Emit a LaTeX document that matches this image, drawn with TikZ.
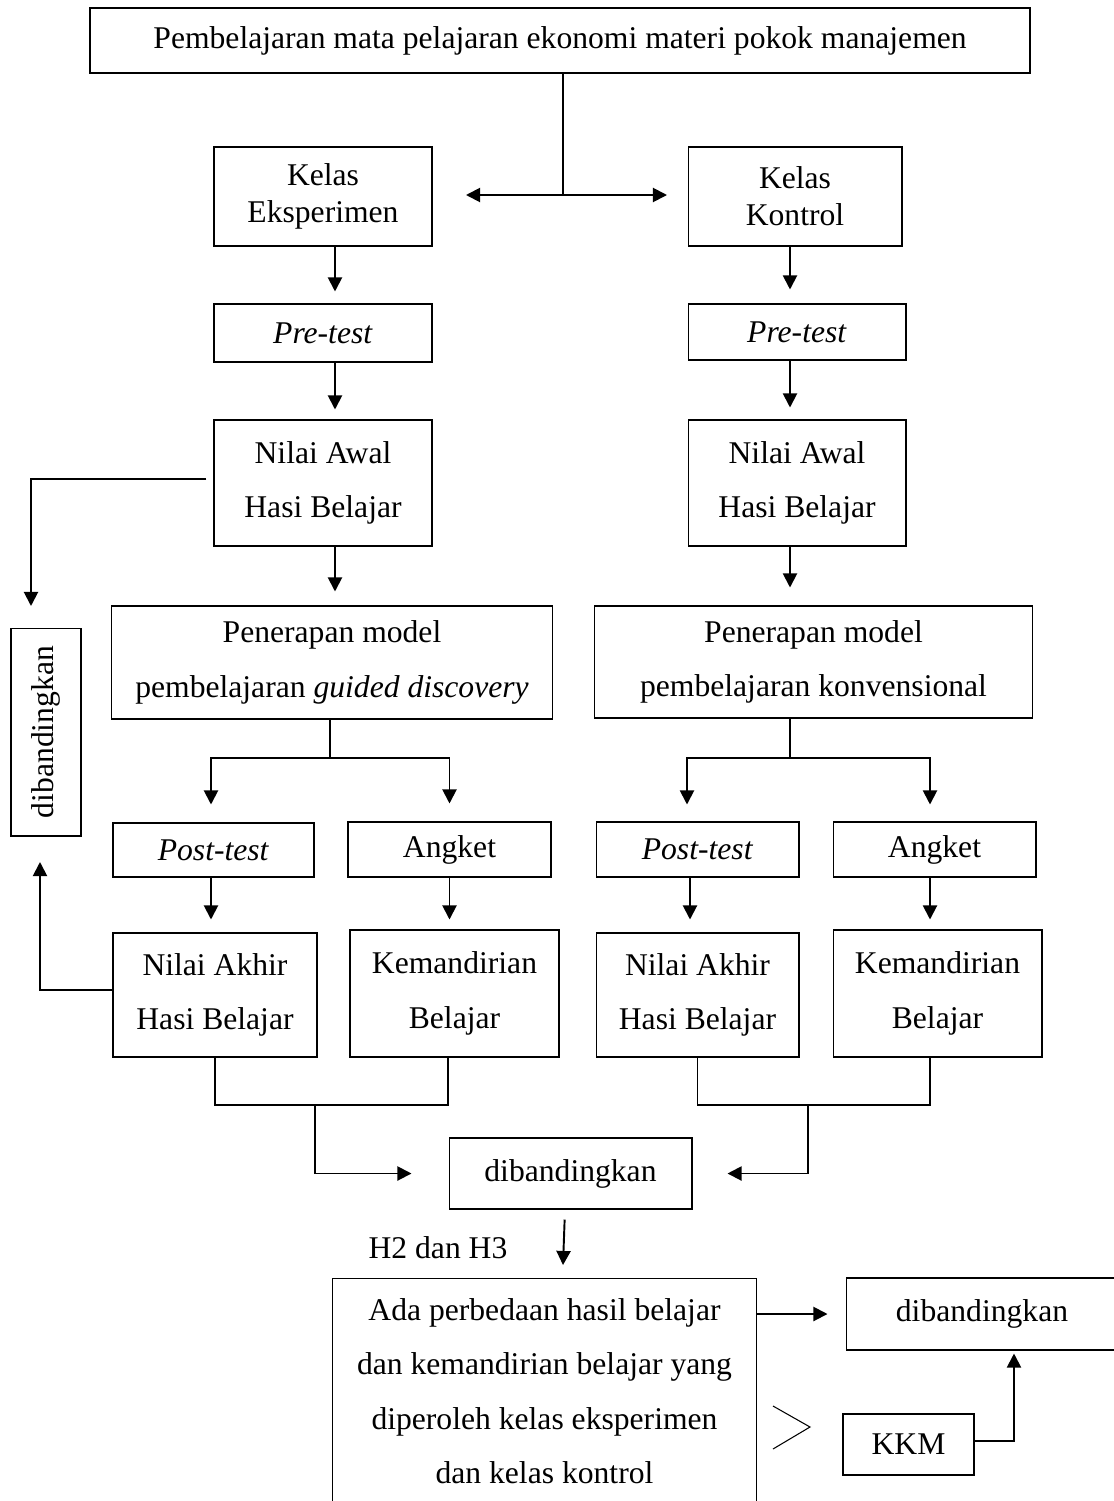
\documentclass[tikz,border=0pt]{standalone}
\usepackage{fontspec}
\setmainfont{Liberation Serif}
\usetikzlibrary{arrows.meta,positioning}
\tikzset{
        treenode/.style={align=center,inner sep=0pt},
        % Boxes of the flow
        node_box/.style={treenode, rectangle, draw=black, line width=0.6pt, font=\fontsize{18}{31}\selectfont},
        % Boxes with two tight lines
        node_class/.style={node_box, font=\fontsize{18}{21}\selectfont},
        % Plain labels
        node_label/.style={treenode, font=\fontsize{18}{31}\selectfont},
        % Connectors
        line_join/.style={line width=1.1pt},
        line_arrow/.style={line_join, -{Triangle[length=8pt,width=8pt]}}
}
\begin{document}
\begin{tikzpicture}[x=0.02cm, y=-0.02cm]
    \useasboundingbox (0,0) rectangle (1113,1501);
    % top
    \node[node_box, line width=0.9pt, minimum width=18.8cm, minimum height=1.3cm] (topic) at (560,40.5)
        {Pembelajaran mata pelajaran ekonomi materi pokok manajemen};
    \node[node_class, minimum width=4.36cm, minimum height=1.98cm] (kelasE) at (323,196.5) {Kelas\\Eksperimen};
    \node[node_class, minimum width=4.28cm, minimum height=1.98cm] (kelasK) at (795,196.5) {Kelas\\Kontrol};
    \coordinate (split) at (563,195);
    \coordinate (splitL) at (466,195);
    \coordinate (splitR) at (667,195);
    \draw[line_join] (split |- topic.south) -- (split);
    \draw[line_join, {Triangle[length=8pt,width=8pt]}-{Triangle[length=8pt,width=8pt]}] (splitL) -- (splitR);

    % pre-test and first scores
    \node[node_box, minimum width=4.36cm, minimum height=1.16cm] (preE) at (323,333) {\textit{Pre-test}};
    \node[node_box, minimum width=4.36cm, minimum height=1.12cm] (preK) at (797,332) {\textit{Pre-test}};
    \node[node_box, minimum width=4.36cm, minimum height=2.52cm] (awalE) at (323,483) {Nilai Awal\\Hasi Belajar};
    \node[node_box, minimum width=4.36cm, minimum height=2.52cm] (awalK) at (797,483) {Nilai Awal\\Hasi Belajar};
    \draw[line_arrow, shorten >=0.24cm] ([xshift=0.24cm]kelasE.south) -- ([xshift=0.24cm]kelasE.south |- preE.north);
    \draw[line_arrow, shorten >=0.28cm] ([xshift=-0.1cm]kelasK.south) -- ([xshift=-0.1cm]kelasK.south |- preK.north);
    \draw[line_arrow, shorten >=0.2cm] ([xshift=0.24cm]preE.south) -- ([xshift=0.24cm]preE.south |- awalE.north);
    \draw[line_arrow, shorten >=0.24cm] ([xshift=-0.14cm]preK.south) -- ([xshift=-0.14cm]preK.south |- awalK.north);

    % models
    \node[node_box, minimum width=8.84cm, minimum height=2.26cm] (modelE) at (332,662.5)
        {Penerapan model\\pembelajaran \textit{guided discovery}};
    \node[node_box, minimum width=8.78cm, minimum height=2.24cm] (modelK) at (813.5,662)
        {Penerapan model\\pembelajaran konvensional};
    \draw[line_arrow, shorten >=0.28cm] ([xshift=0.24cm]awalE.south) -- ([xshift=0.24cm]awalE.south |- modelE.north);
    \draw[line_arrow, shorten >=0.36cm] ([xshift=-0.14cm]awalK.south) -- ([xshift=-0.14cm]awalK.south |- modelK.north);

    % side comparison
    \node[node_box, rotate=90, minimum width=4.16cm, minimum height=1.4cm] (cmpL) at (46,732) {dibandingkan};
    \coordinate (cmpLin) at (31,606);
    \coordinate (cmpLout) at (40,862);
    \draw[line_arrow, shorten <=0.14cm] ([yshift=0.08cm]awalE.west) -| (cmpLin);

    % post-test and questionnaire
    \node[node_box, minimum width=4.02cm, minimum height=1.08cm] (postE) at (213.5,850) {\textit{Post-test}};
    \node[node_box, minimum width=4.06cm, minimum height=1.1cm] (angketE) at (449.5,849.5) {Angket};
    \node[node_box, minimum width=4.06cm, minimum height=1.1cm] (postK) at (697.5,849.5) {\textit{Post-test}};
    \node[node_box, minimum width=4.06cm, minimum height=1.1cm] (angketK) at (934.5,849.5) {Angket};
    \coordinate (forkE) at (330,758);
    \coordinate (forkK) at (790,758);
    \draw[line_join] (modelE.south -| forkE) -- (forkE);
    \draw[line_arrow, shorten >=0.36cm] (forkE) -| ([xshift=-0.05cm]postE.north);
    \draw[line_arrow, shorten >=0.36cm] (forkE) -| (angketE.north);
    \draw[line_join] (modelK.south -| forkK) -- (forkK);
    \draw[line_arrow, shorten >=0.34cm] (forkK) -| ([xshift=-0.21cm]postK.north);
    \draw[line_arrow, shorten >=0.34cm] (forkK) -| ([xshift=-0.09cm]angketK.north);

    % results
    \node[node_box, minimum width=4.08cm, minimum height=2.48cm] (akhirE) at (215,995) {Nilai Akhir\\Hasi Belajar};
    \node[node_box, minimum width=4.18cm, minimum height=2.54cm] (mandiriE) at (454.5,993.5) {Kemandirian\\Belajar};
    \node[node_box, minimum width=4.06cm, minimum height=2.48cm] (akhirK) at (697.5,995) {Nilai Akhir\\Hasi Belajar};
    \node[node_box, minimum width=4.18cm, minimum height=2.54cm] (mandiriK) at (937.5,993.5) {Kemandirian\\Belajar};
    \draw[line_arrow, shorten >=0.26cm] ([xshift=-0.05cm]postE.south) -- ([xshift=-0.05cm]postE.south |- akhirE.north);
    \draw[line_arrow, shorten >=0.2cm] (angketE.south) -- (angketE.south |- mandiriE.north);
    \draw[line_arrow, shorten >=0.26cm] ([xshift=-0.15cm]postK.south) -- ([xshift=-0.15cm]postK.south |- akhirK.north);
    \draw[line_arrow, shorten >=0.2cm] ([xshift=-0.09cm]angketK.south) -- ([xshift=-0.09cm]angketK.south |- mandiriK.north);
    \draw[line_arrow] ([yshift=0.1cm]akhirE.west) -| (cmpLout);

    % comparison of both classes
    \node[node_box, minimum width=4.86cm, minimum height=1.42cm] (cmpMid) at (570.5,1173.5) {dibandingkan};
    \coordinate (joinE) at (315,1105);
    \coordinate (joinK) at (808,1105);
    \draw[line_join] (akhirE.south) |- (joinE) -| ([xshift=-0.13cm]mandiriE.south);
    \draw[line_join] (akhirK.south) |- (joinK) -| ([xshift=-0.15cm]mandiriK.south);
    \draw[line_arrow, shorten >=0.74cm] (joinE) |- (cmpMid.west);
    \draw[line_arrow, shorten >=0.7cm] (joinK) |- (cmpMid.east);

    % hypotheses
    \node[node_label] (hypo) at (438,1248) {H2 dan H3};
    \coordinate (hypoTip) at (563,1265);
    \draw[line_arrow, shorten <=0.2cm] ([xshift=-0.11cm]cmpMid.south) -- (hypoTip);
    \node[node_box, minimum width=8.5cm, minimum height=4.52cm] (hasil) at (544.5,1391)
        {Ada perbedaan hasil belajar\\dan kemandirian belajar yang\\diperoleh kelas eksperimen\\dan kelas kontrol};
    \node[node_box, minimum width=5.44cm, minimum height=1.44cm] (cmpR) at (982,1314) {dibandingkan};
    \node[node_box, minimum width=2.62cm, minimum height=1.22cm] (kkm) at (908.5,1444.5) {KKM};
    \draw[line_arrow, shorten >=0.36cm] (hasil.east |- cmpR.west) -- (cmpR.west);
    \draw[line_arrow, shorten >=0.06cm] ([yshift=0.07cm]kkm.east) -| ([xshift=0.64cm]cmpR.south);
    \draw[line width=0.6pt] (773,1406) -- (810,1427) -- (773,1449);
\end{tikzpicture}
\end{document}
